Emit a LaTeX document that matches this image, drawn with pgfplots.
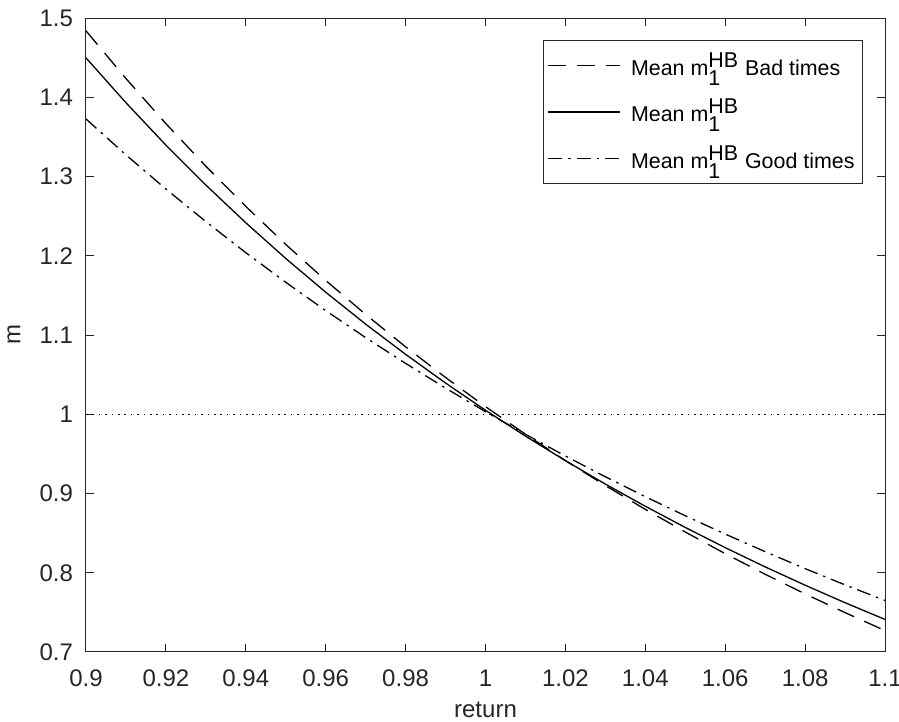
\documentclass[border=0pt]{standalone}
\usepackage{fontspec}
\setmainfont{Liberation Sans}
\usepackage{pgfplots}
\pgfplotsset{compat=1.18}
\definecolor{axgray}{RGB}{38,38,38}
\newcommand\fs{\fontsize{12}{14.4}\selectfont}
\newcommand\lfs{\fontsize{10.7}{12.8}\selectfont}

\pgfplotstableread{
x     bad     mean    good
0.90  1.4838  1.4497  1.3726
0.91  1.4236  1.3931  1.3273
0.92  1.3667  1.3396  1.2842
0.93  1.3130  1.2892  1.2431
0.94  1.2623  1.2416  1.2039
0.95  1.2143  1.1966  1.1665
0.96  1.1689  1.1540  1.1308
0.97  1.1259  1.1137  1.0967
0.98  1.0851  1.0756  1.0642
0.99  1.0464  1.0394  1.0330
1.00  1.0096  1.0050  1.0032
1.01  0.9748  0.9724  0.9747
1.02  0.9416  0.9414  0.9473
1.03  0.9100  0.9119  0.9211
1.04  0.8800  0.8839  0.8960
1.05  0.8514  0.8572  0.8719
1.06  0.8241  0.8317  0.8488
1.07  0.7981  0.8074  0.8266
1.08  0.7733  0.7843  0.8052
1.09  0.7497  0.7622  0.7847
1.10  0.7270  0.7411  0.7650
}\mdata

\begin{document}
\begin{tikzpicture}
\path[use as bounding box] (-43pt,-35pt) rectangle (406.5pt,326pt);
\begin{axis}[
  scale only axis, width=399.5pt, height=317pt,
  xmin=0.9, xmax=1.1, ymin=0.7, ymax=1.5,
  xtick={0.9,0.92,0.94,0.96,0.98,1,1.02,1.04,1.06,1.08,1.1},
  xticklabels={0.9,0.92,0.94,0.96,0.98,1,1.02,1.04,1.06,1.08,1.1},
  ytick={0.7,0.8,0.9,1,1.1,1.2,1.3,1.4,1.5},
  yticklabels={0.7,0.8,0.9,1,1.1,1.2,1.3,1.4,1.5},
  scaled ticks=false,
  tick align=inside, major tick length=4pt,
  axis line style={axgray, line width=0.5pt},
  every tick/.style={axgray, line width=0.5pt},
  tick label style={font=\fs, text=axgray},
  xticklabel style={anchor=base, yshift=-17.5pt},
  yticklabel style={xshift=-3pt},
  xlabel={return}, ylabel={m},
  every axis x label/.style={at={(axis description cs:0.5,0)}, anchor=base, yshift=-33pt, font=\fs, text=axgray},
  every axis y label/.style={at={(axis description cs:0,0.5)}, xshift=-36pt, rotate=90, anchor=center, font=\fs, text=axgray},
  legend style={at={(1,1)}, anchor=north east, xshift=-11pt, yshift=-11pt,
    font=\lfs, draw=axgray, line width=0.5pt, row sep=6.5pt,
    inner xsep=2pt, inner ysep=4pt, cells={anchor=west}},
  legend image code/.code={\draw[#1] (0pt,0pt) -- (36pt,0pt);},
]
\addplot[black, line width=0.65pt, dash pattern=on 9pt off 5.5pt] table[x=x,y=bad] {\mdata};
\addlegendentry{\hspace{3pt}Mean m$_{\textrm{1}}^{\textrm{HB}}$ Bad times}
\addplot[black, line width=0.65pt] table[x=x,y=mean] {\mdata};
\addlegendentry{\hspace{3pt}Mean m$_{\textrm{1}}^{\textrm{HB}}$}
\addplot[black, line width=0.65pt, dash pattern=on 7pt off 3pt on 1.2pt off 3pt] table[x=x,y=good] {\mdata};
\addlegendentry{\hspace{3pt}Mean m$_{\textrm{1}}^{\textrm{HB}}$ Good times}
\addplot[black, line width=0.65pt, dash pattern=on 0.8pt off 2.4pt, forget plot] coordinates {(0.9,1) (1.1,1)};
\end{axis}
\end{tikzpicture}
\end{document}
